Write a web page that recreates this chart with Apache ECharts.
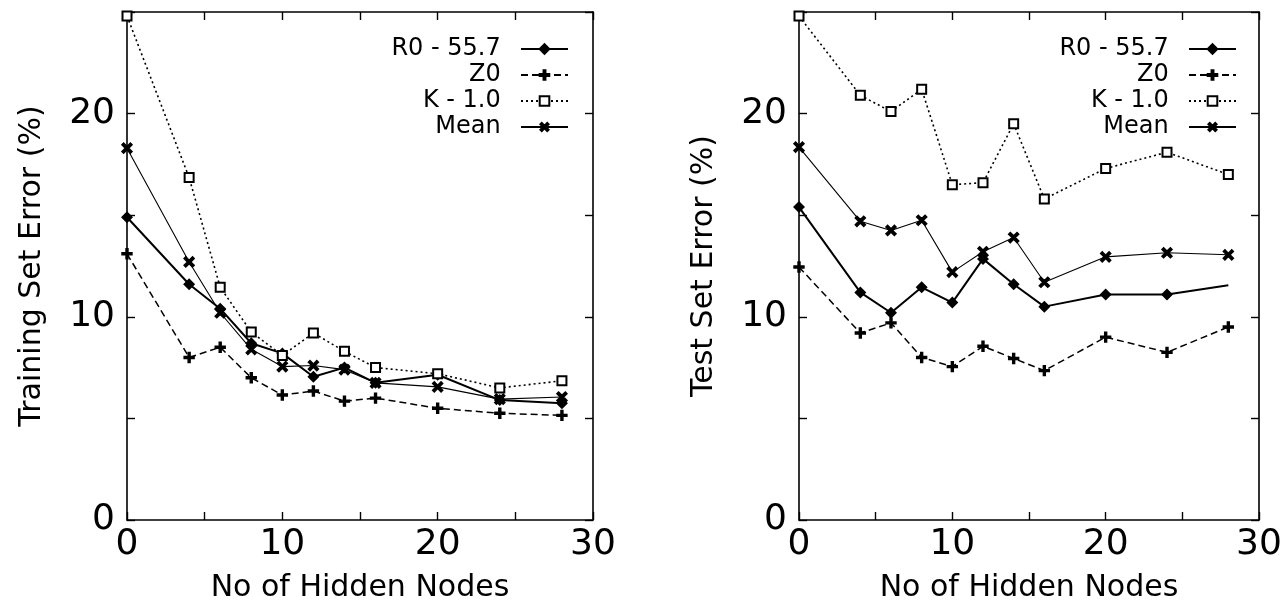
<!DOCTYPE html>
<html>
<head>
<meta charset="utf-8">
<script src="https://cdn.jsdelivr.net/npm/echarts@6/dist/echarts.min.js"></script>
<style>html,body{margin:0;padding:0;background:#fff}#c{width:1287px;height:602px}</style>
</head>
<body>
<div id="c"></div>
<script>
const hiddenNodes = [0, 4, 6, 8, 10, 12, 14, 16, 20, 24, 28];
const seriesNames = ['R0 - 55.7', 'Z0', 'K - 1.0', 'Mean'];
const trainR0   = [14.9, 11.6, 10.4, 8.7, 8.2, 7.05, 7.5, 6.75, 7.15, 5.9, 5.75];
const trainZ0   = [13.1, 8.0, 8.5, 7.0, 6.15, 6.35, 5.85, 6.0, 5.5, 5.25, 5.15];
const trainK    = [24.8, 16.85, 11.45, 9.25, 8.1, 9.2, 8.3, 7.5, 7.2, 6.5, 6.85];
const trainMean = [18.3, 12.7, 10.2, 8.4, 7.55, 7.6, 7.4, 6.75, 6.55, 5.95, 6.05];
const testR0    = [15.4, 11.2, 10.2, 11.45, 10.7, 12.85, 11.6, 10.5, 11.1, 11.1, 11.55];
const testZ0    = [12.45, 9.2, 9.7, 8.0, 7.55, 8.55, 7.95, 7.35, 9.0, 8.25, 9.5];
const testK     = [24.8, 20.9, 20.1, 21.2, 16.5, 16.6, 19.5, 15.8, 17.3, 18.1, 17.0];
const testMean  = [18.35, 14.7, 14.25, 14.75, 12.2, 13.2, 13.9, 11.7, 12.95, 13.15, 13.05];
const xAxisTitle = 'No of Hidden Nodes';
const yAxisTitles = ['Training Set Error (%)', 'Test Set Error (%)'];

const FONT = 'DejaVu Sans';
const plusPath = 'path://M4,0H6V4H10V6H6V10H4V6H0V4H4Z';

const styles = [
  {symbol: 'diamond', symbolSize: 10, symbolRotate: 0, lineStyle: {width: 2, type: 'solid'}},
  {symbol: plusPath, symbolSize: 10, symbolRotate: 0, lineStyle: {width: 1.5, type: [7, 4]}},
  {symbol: 'emptyRect', symbolSize: 9, symbolRotate: 0, lineStyle: {width: 1.6, type: [2, 3]}},
  {symbol: plusPath, symbolSize: 12, symbolRotate: 45, lineStyle: {width: 1.1, type: 'solid'}}
];

function pairs(ys, skipLastSymbol) {
  return hiddenNodes.map((x, i) => {
    if (skipLastSymbol && i === hiddenNodes.length - 1) return {value: [x, ys[i]], symbol: 'none'};
    return [x, ys[i]];
  });
}

function mkSeries(gi, idx, ys, skipLast) {
  const s = styles[idx];
  return {
    type: 'line', name: seriesNames[idx], xAxisIndex: gi * 2, yAxisIndex: gi * 2,
    data: pairs(ys, skipLast), symbol: s.symbol, symbolSize: s.symbolSize, symbolRotate: s.symbolRotate,
    showAllSymbol: true, animation: false, z: 3,
    itemStyle: {color: '#000', borderColor: '#000', borderWidth: 1.4},
    lineStyle: Object.assign({color: '#000'}, s.lineStyle)
  };
}

const tickFmt = v => (v % 10 === 0 ? String(v) : '');
const axisLineStyle = {onZero: false, lineStyle: {color: '#000', width: 1.6}};
const tickStyle = {inside: true, length: 8, lineStyle: {color: '#000', width: 1.4}};

function mkX(gi) {
  return [
    {gridIndex: gi, type: 'value', min: 0, max: 30, interval: 5, position: 'bottom',
     name: xAxisTitle, nameLocation: 'middle', nameGap: 68, nameMoveOverlap: false,
     nameTextStyle: {fontFamily: FONT, fontSize: 30, color: '#000', verticalAlign: 'middle'},
     axisLine: axisLineStyle, axisTick: tickStyle,
     axisLabel: {formatter: tickFmt, fontFamily: FONT, fontSize: 36, color: '#000', margin: 7},
     splitLine: {show: false}},
    {gridIndex: gi, type: 'value', min: 0, max: 30, interval: 5, position: 'top',
     axisLine: axisLineStyle, axisTick: tickStyle,
     axisLabel: {show: false}, splitLine: {show: false}}
  ];
}
function mkY(gi) {
  return [
    {gridIndex: gi, type: 'value', min: 0, max: 25, interval: 5, position: 'left',
     name: yAxisTitles[gi], nameLocation: 'middle', nameGap: 80, nameRotate: 90, nameMoveOverlap: false,
     nameTextStyle: {fontFamily: FONT, fontSize: 30, color: '#000'},
     axisLine: axisLineStyle, axisTick: tickStyle,
     axisLabel: {formatter: tickFmt, fontFamily: FONT, fontSize: 36, color: '#000', margin: 12},
     splitLine: {show: false}},
    {gridIndex: gi, type: 'value', min: 0, max: 25, interval: 5, position: 'right',
     axisLine: axisLineStyle, axisTick: tickStyle,
     axisLabel: {show: false}, splitLine: {show: false}}
  ];
}

function mkLegend(right) {
  return {
    orient: 'vertical', right: right, top: 32, align: 'right',
    itemWidth: 47, itemHeight: 12, itemGap: 2,
    selectedMode: false,
    data: seriesNames,
    formatter: n => n + '  ',
    textStyle: {fontFamily: FONT, fontSize: 24, color: '#000'}
  };
}

const chart = echarts.init(document.getElementById('c'), null, {renderer: 'canvas'});
chart.setOption({
  backgroundColor: '#fff',
  animation: false,
  grid: [
    {left: 127, right: 694, top: 12, bottom: 82, containLabel: false, outerBoundsMode: 'none'},
    {left: 799, right: 28, top: 12, bottom: 82, containLabel: false, outerBoundsMode: 'none'}
  ],
  xAxis: mkX(0).concat(mkX(1)),
  yAxis: mkY(0).concat(mkY(1)),
  legend: [mkLegend(713), mkLegend(45)],
  series: [
    mkSeries(0, 0, trainR0), mkSeries(0, 1, trainZ0), mkSeries(0, 2, trainK), mkSeries(0, 3, trainMean),
    mkSeries(1, 0, testR0, true), mkSeries(1, 1, testZ0), mkSeries(1, 2, testK), mkSeries(1, 3, testMean)
  ]
});
</script>
</body>
</html>
